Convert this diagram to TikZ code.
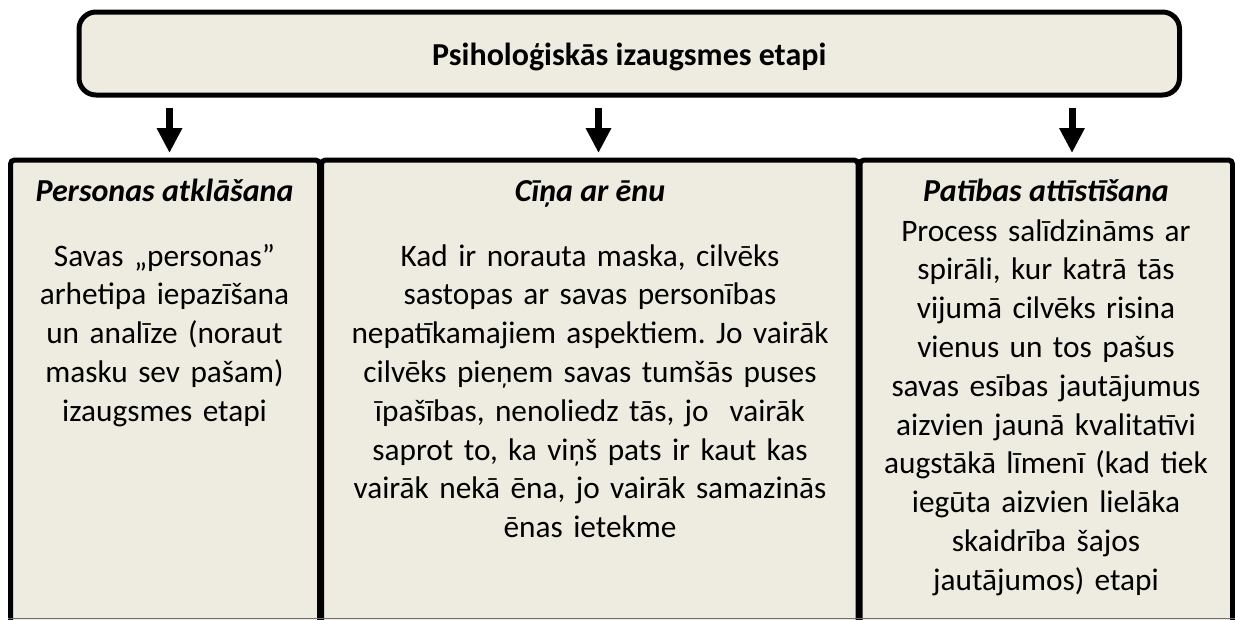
\documentclass[tikz,border=0pt]{standalone}
\usepackage{fontspec}
\setmainfont{Carlito}
\usetikzlibrary{arrows.meta}
\definecolor{boxfill}{HTML}{EEECE1}
\definecolor{edgegray}{HTML}{6E6E6E}
\frenchspacing
\tikzset{
  topbox/.style={draw=black, fill=boxfill, line width=5pt, rounded corners=17pt,
    minimum width=1100.5pt, minimum height=83pt, inner sep=0pt,
    font=\bfseries\fontsize{32}{38.8}\selectfont, text height=23pt, text depth=0pt},
  colbox/.style={draw=black, fill=boxfill, line width=5pt, rounded corners=4pt,
    minimum height=520pt, inner sep=0pt, anchor=north},
  headtext/.style={font=\bfseries\itshape\fontsize{32}{38.8}\selectfont, inner sep=0pt, anchor=base},
  bodytext/.style={font=\fontsize{31.3}{38.8}\selectfont, inner sep=0pt, anchor=north, align=center},
  arr/.style={line width=7pt, -{Triangle[width=24pt,length=25pt]}, shorten <=10pt, shorten >=4.5pt},
}
\begin{document}
\frenchspacing
\begin{tikzpicture}[x=1pt,y=-1pt]
\useasboundingbox (0,0) rectangle (1235,619);
\clip (0,0) rectangle (1235,619);

\node[topbox] (top) at (629.25,53.5) {Psiholoģiskās izaugsmes etapi};

\node[colbox, minimum width=309pt] (b1) at (165,157.5) {};
\node[colbox, minimum width=536.5pt] (b2) at (589.75,157.5) {};
\node[colbox, minimum width=372.5pt] (b3) at (1046.25,157.5) {};

\draw[edgegray, line width=1.2pt] (b1.south west |- 0,618.4) -- (b3.south east |- 0,618.4);

\coordinate (a1) at ([xshift=4.5pt]b1.north);
\coordinate (a2) at ([xshift=8.75pt]b2.north);
\coordinate (a3) at ([xshift=25.75pt]b3.north);
\draw[arr] (top.south -| a1) -- (a1);
\draw[arr] (top.south -| a2) -- (a2);
\draw[arr] (top.south -| a3) -- (a3);

\node[headtext] (h1) at (164.5,201) {Personas atklāšana};
\node[headtext] (h2) at (590,201) {Cīņa ar ēnu};
\node[headtext] (h3) at (1046,201) {Patības attīstīšana};

\node[bodytext, text width=300pt] (t1) at (164.5,238.7) {\strut Savas „personas”\\ arhetipa iepazīšana\\ un analīze (noraut\\ masku sev pašam)\\ izaugsmes etapi};
\node[bodytext, text width=520pt] (t2) at (590,238.7) {\strut Kad ir norauta maska, cilvēks\\ sastopas ar savas personības\\ nepatīkamajiem aspektiem. Jo vairāk\\ cilvēks pieņem savas tumšās puses\\ īpašības, nenoliedz tās, jo~ vairāk\\ saprot to, ka viņš pats ir kaut kas\\ vairāk nekā ēna, jo vairāk samazinās\\ ēnas ietekme};
\node[bodytext, text width=365pt] (t3) at (1046,213.7) {\strut Process salīdzināms ar\\ spirāli, kur katrā tās\\ vijumā cilvēks risina\\ vienus un tos pašus\\ savas esības jautājumus\\ aizvien jaunā kvalitatīvi\\ augstākā līmenī (kad tiek\\ iegūta aizvien lielāka\\ skaidrība šajos\\ jautājumos) etapi};
\end{tikzpicture}
\end{document}
